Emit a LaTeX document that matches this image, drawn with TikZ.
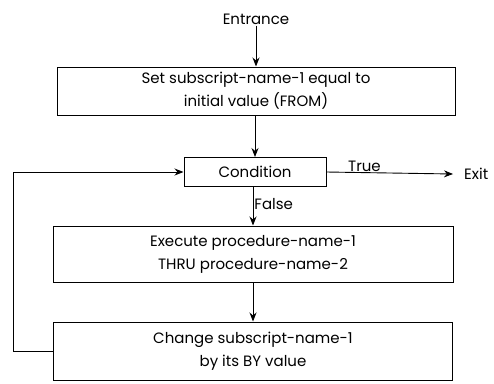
\documentclass[tikz,border=0pt]{standalone}
\usepackage{fontspec}
\setmainfont{Poppins}
\usetikzlibrary{arrows.meta}
\begin{document}
\begin{tikzpicture}[x=1pt,y=-1pt,
  flowbox/.style={draw,line width=1pt,rectangle,align=center,inner sep=0pt,font=\fontsize{15}{23}\selectfont},
  label/.style={inner sep=1pt,font=\fontsize{15}{17}\selectfont},
  flow/.style={line width=0.9pt,-{Stealth[length=9pt,width=7pt]}},
  line/.style={line width=0.9pt}]
\useasboundingbox (0,0) rectangle (494,383);
\node[label] (entr) at (256,19) {Entrance};
\node[flowbox,minimum width=398pt,minimum height=48pt] (init) at (256,91)
  {Set subscript-name-1 equal to\\initial value (FROM)};
\node[flowbox,minimum width=142pt,minimum height=29pt] (cond) at (255,172)
  {Condition};
\node[flowbox,minimum width=400pt,minimum height=56pt] (exec) at (253,254)
  {Execute procedure-name-1\\THRU procedure-name-2};
\node[flowbox,minimum width=399pt,minimum height=58pt] (chg) at (253,351)
  {Change subscript-name-1\\by its BY value};
\node[label,anchor=west] (exit) at (463,174) {Exit};
\coordinate (loop) at (13,351);
\draw[flow] (entr) -- (init);
\draw[flow] (init.south -| cond.north) -- (cond.north);
\draw[flow] (cond.east) -- node[label,above,pos=0.3] {True} (exit.west -| 453,0);
\draw[flow] (cond.south -| exec.north) -- node[label,right,pos=0.45] {False} (exec.north);
\draw[flow] (exec) -- (chg);
\draw[line] (chg.west) -- (loop);
\draw[flow] (loop) |- (cond.west);
\end{tikzpicture}
\end{document}
